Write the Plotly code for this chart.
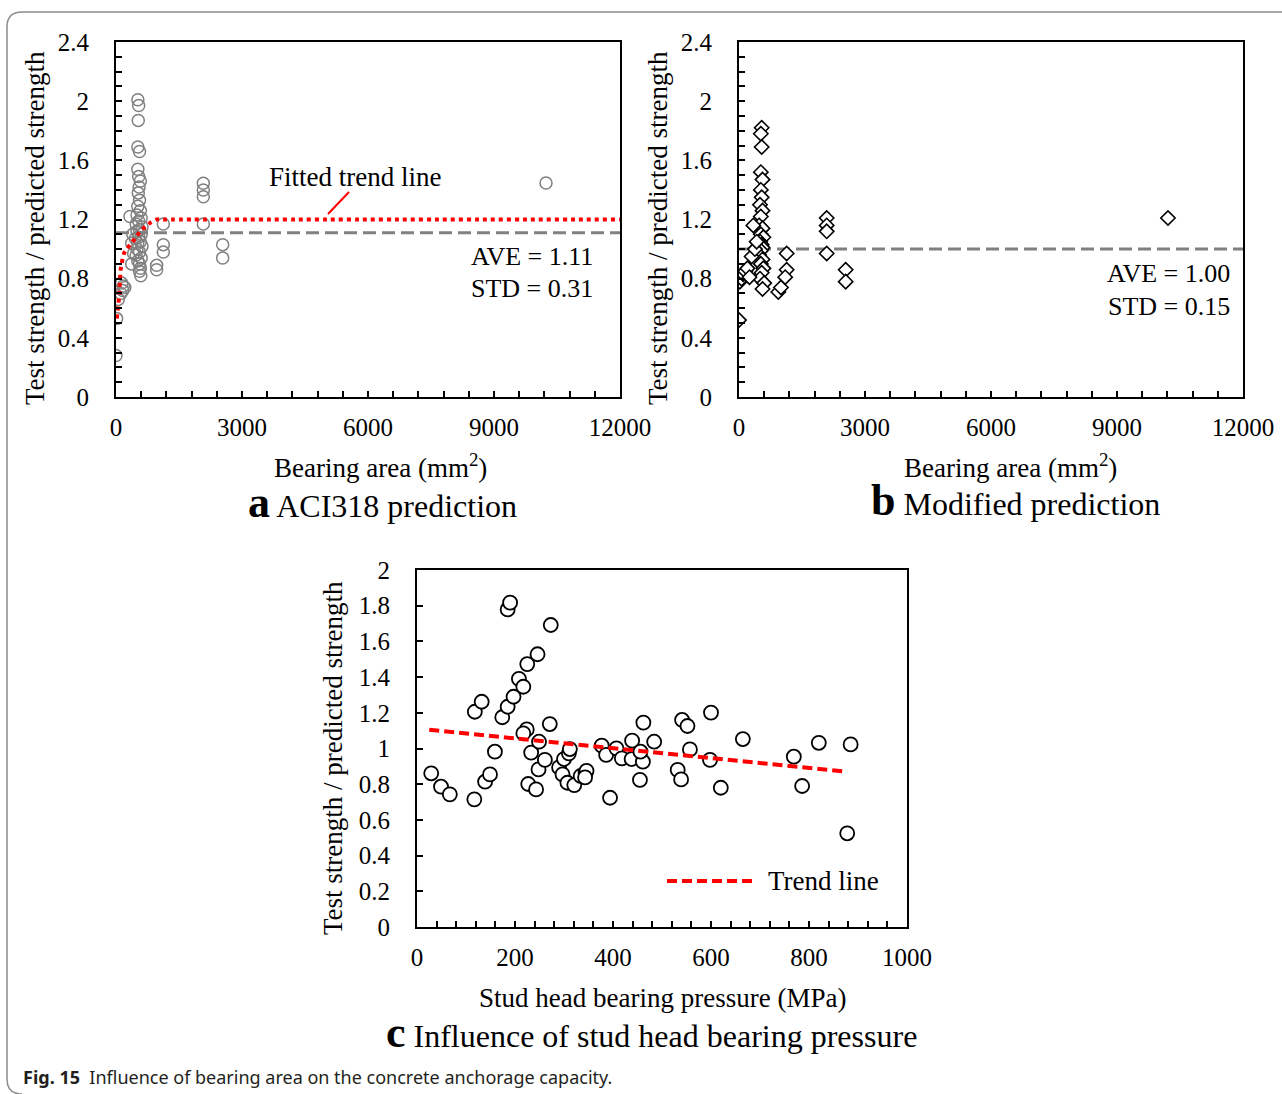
import plotly.graph_objects as go

W, H = 1282, 1094

# ---------------- data ----------------
# Panel a: ACI318 prediction (bearing area mm2, test / predicted)
area_a = [520, 540, 530, 520, 560, 520, 540, 580, 550, 530, 560, 520, 580, 500, 600,
          540, 480, 620, 560, 500, 600, 540, 460, 580, 520, 620, 500, 560, 480, 600,
          520, 560, 580, 560, 590,
          373, 333, 373, 420, 400,
          135, 175, 210, 160, 115, 55, 15, 0,
          1127, 1127, 1127, 968, 968, 2079, 2079, 2079, 2079, 2540, 2540, 10238]
ratio_a = [2.01, 1.97, 1.87, 1.69, 1.66, 1.54, 1.49, 1.46, 1.42, 1.38, 1.33, 1.29, 1.26, 1.23, 1.21,
           1.19, 1.17, 1.15, 1.13, 1.12, 1.10, 1.08, 1.07, 1.05, 1.04, 1.02, 1.00, 0.98, 0.96, 0.94,
           0.92, 0.90, 0.87, 0.85, 0.82,
           0.90, 1.22, 1.04, 0.97, 1.10,
           0.77, 0.75, 0.74, 0.72, 0.70, 0.66, 0.53, 0.28,
           1.17, 1.03, 0.98, 0.89, 0.86, 1.445, 1.40, 1.354, 1.17, 1.03, 0.94, 1.447]
trend_area_a = [20, 79, 111, 190, 333, 452, 555, 690, 826, 968, 1200, 12000]
trend_ratio_a = [0.53, 0.70, 0.86, 0.97, 1.03, 1.07, 1.11, 1.15, 1.18, 1.20, 1.20, 1.20]
ave_a, std_a = 1.11, 0.31

# Panel b: Modified prediction
area_b = [540, 520, 540, 520, 560, 520, 540, 500, 560, 520, 480, 560, 520, 580, 500,
          540, 560, 520, 480, 560, 520, 580, 540, 500, 600, 560,
          0, 20, 60, 100, 150, 200, 250, 341, 300, 380, 420,
          936, 1000, 1135, 1135, 1100, 2088, 2088, 2088, 2088, 2540, 2540, 10214]
ratio_b = [1.82, 1.78, 1.69, 1.52, 1.47, 1.40, 1.35, 1.30, 1.26, 1.22, 1.16, 1.14, 1.10, 1.08, 1.05,
           1.03, 1.01, 0.99, 0.96, 0.93, 0.90, 0.87, 0.84, 0.80, 0.77, 0.73,
           0.52, 0.78, 0.80, 0.83, 0.85, 0.87, 0.81, 1.16, 0.95, 1.00, 1.05,
           0.71, 0.74, 0.97, 0.86, 0.81, 1.21, 1.16, 1.12, 0.97, 0.86, 0.78, 1.21]
ave_b, std_b = 1.00, 0.15

# Panel c: stud head bearing pressure (MPa)
press_c = [29, 49, 67, 117, 118, 132, 139, 149, 159, 174, 185, 185, 190, 197, 208,
           217, 225, 246, 273, 271, 224, 217, 233, 227, 243, 248, 249, 261, 290, 297,
           300, 307, 310, 312, 321, 334, 344, 346, 343, 394, 377, 386, 407, 418, 439,
           438, 455, 462, 461, 456, 484, 541, 552, 557, 532, 539, 600, 598, 620, 665,
           769, 786, 820, 885, 878]
ratio_c = [0.861, 0.786, 0.743, 0.715, 1.206, 1.262, 0.814, 0.855, 0.982, 1.175, 1.234, 1.779, 1.817, 1.290, 1.390,
           1.346, 1.473, 1.528, 1.692, 1.137, 1.107, 1.085, 0.977, 0.801, 0.771, 0.883, 1.038, 0.936, 0.894, 0.855,
           0.941, 0.808, 0.973, 0.997, 0.795, 0.846, 0.864, 0.875, 0.838, 0.724, 1.016, 0.964, 1.001, 0.945, 1.044,
           0.941, 0.824, 1.145, 0.926, 0.982, 1.038, 1.160, 1.126, 0.995, 0.880, 0.827, 1.201, 0.936, 0.780, 1.053,
           0.954, 0.790, 1.032, 1.023, 0.525]
trend_p = [25, 875]
trend_v = [1.105, 0.870]

# ---------------- helpers ----------------
def px(x):
    return x / W

def py(y):
    return 1 - y / H

SERIF = "Liberation Serif"
TICK = dict(family=SERIF, size=25, color="black")

fig = go.Figure()

# panel a
fig.add_trace(go.Scatter(x=area_a, y=ratio_a, mode="markers", xaxis="x", yaxis="y",
                         marker=dict(symbol="circle", size=12, color="rgba(0,0,0,0)",
                                     line=dict(color="#808080", width=1.5)), showlegend=False))
fig.add_trace(go.Scatter(x=[0, 12000], y=[ave_a, ave_a], mode="lines", xaxis="x", yaxis="y",
                         line=dict(color="#808080", width=3, dash="13px,6px"), showlegend=False))
fig.add_trace(go.Scatter(x=trend_area_a, y=trend_ratio_a, mode="lines", xaxis="x", yaxis="y",
                         line=dict(color="#ff0000", width=4, dash="dot", shape="spline", smoothing=0.6),
                         showlegend=False))

# panel b
fig.add_trace(go.Scatter(x=[0, 12000], y=[ave_b, ave_b], mode="lines", xaxis="x2", yaxis="y2",
                         line=dict(color="#808080", width=3, dash="13px,6px"), showlegend=False))
fig.add_trace(go.Scatter(x=area_b, y=ratio_b, mode="markers", xaxis="x2", yaxis="y2",
                         marker=dict(symbol="diamond", size=11, color="white",
                                     line=dict(color="black", width=1.6)), showlegend=False))

# panel c
fig.add_trace(go.Scatter(x=press_c, y=ratio_c, mode="markers", xaxis="x3", yaxis="y3",
                         marker=dict(symbol="circle", size=14, color="white",
                                     line=dict(color="black", width=1.8)), showlegend=False))
fig.add_trace(go.Scatter(x=trend_p, y=trend_v, mode="lines", xaxis="x3", yaxis="y3",
                         line=dict(color="#ff0000", width=4, dash="10px,5px"), showlegend=False))


def base_axis(domain, rng, dtick, minor, anchor, standoff):
    return dict(domain=domain, range=rng, dtick=dtick, tick0=0, ticks="inside", ticklen=6,
                tickwidth=1.5, tickcolor="black", minor=dict(ticks="inside", dtick=minor, ticklen=6,
                                                             tickwidth=1.5, tickcolor="black"),
                showline=True, linewidth=2, linecolor="black", mirror=True, showgrid=False,
                zeroline=False, exponentformat="none", tickfont=TICK, ticklabelstandoff=standoff,
                anchor=anchor, fixedrange=True)


def xax(domain, rng, dtick, minor, anchor):
    d = base_axis(domain, rng, dtick, minor, anchor, 7)
    d["tickformat"] = "d"
    return d


def yax(domain, rng, dtick, minor, anchor):
    return base_axis(domain, rng, dtick, minor, anchor, 20)


ya_dom = [py(397), py(42)]
fig.update_layout(
    xaxis=xax([px(116), px(620)], [0, 12000], 3000, 600, "y"),
    yaxis=yax(ya_dom, [0, 2.4], 0.4, 0.1, "x"),
    xaxis2=xax([px(739), px(1243)], [0, 12000], 3000, 600, "y2"),
    yaxis2=yax(ya_dom, [0, 2.4], 0.4, 0.1, "x2"),
    xaxis3=xax([px(417), px(907)], [0, 1000], 200, 40, "y3"),
    yaxis3=yax([py(927), py(570)], [0, 2], 0.2, 0.2, "x3"),
)
fig.layout.yaxis3.minor = dict(ticks="")

ann = []

def text(x, y, s, size=27, xanchor="center", angle=0, family=SERIF, color="black"):
    ann.append(dict(x=px(x), y=py(y), xref="paper", yref="paper", text=s, showarrow=False,
                    xanchor=xanchor, yanchor="middle", textangle=angle,
                    font=dict(family=family, size=size, color=color)))

ytitle = "Test strength / predicted strength"
text(35, 228, ytitle, angle=-90)
text(658, 228, ytitle, angle=-90)
text(333, 758, ytitle, angle=-90)
text(380, 466, "Bearing area (mm<sup>2</sup>)")
text(1010, 466, "Bearing area (mm<sup>2</sup>)")
text(663, 998, "Stud head bearing pressure (MPa)")

text(382, 502, '<span style="font-size:44px"><b>a</b></span> ACI318 prediction', size=32)
text(1015, 500, '<span style="font-size:44px"><b>b</b></span> Modified prediction', size=32)
text(651, 1032, '<span style="font-size:44px"><b>c</b></span> Influence of stud head bearing pressure', size=32)

text(355, 177, "Fitted trend line", size=27)
text(595, 256, f"AVE = {ave_a:.2f}", size=26, xanchor="right")
text(595, 288, f"STD = {std_a:.2f}", size=26, xanchor="right")
text(1232, 273, f"AVE = {ave_b:.2f}", size=26, xanchor="right")
text(1232, 306, f"STD = {std_b:.2f}", size=26, xanchor="right")
text(766, 881, "Trend line", size=27, xanchor="left")

text(21, 1077, "<b>Fig. 15</b>  Influence of bearing area on the concrete anchorage capacity.",
     size=18, xanchor="left", family="Noto Sans", color="#231f20")

shapes = [
    # leader for fitted trend line
    dict(type="line", xref="paper", yref="paper", x0=px(328), y0=py(214), x1=px(349), y1=py(192),
         line=dict(color="#ff0000", width=2)),
    # legend sample for trend line
    dict(type="line", xref="paper", yref="paper", x0=px(667), y0=py(881), x1=px(757), y1=py(881),
         line=dict(color="#ff0000", width=4, dash="10px,5px")),
    # outer rounded frame
    dict(type="path", xref="paper", yref="paper",
         path=(f"M {px(1290)},{py(12)} L {px(22)},{py(12)} Q {px(7)},{py(12)} {px(7)},{py(27)} "
               f"L {px(7)},{py(1079)} Q {px(7)},{py(1094)} {px(22)},{py(1094)}"),
         line=dict(color="#8c8c8c", width=1.5)),
]

fig.update_layout(width=W, height=H, margin=dict(l=0, r=0, t=0, b=0, autoexpand=False),
                  paper_bgcolor="white", plot_bgcolor="white",
                  font=dict(family=SERIF, color="black"),
                  annotations=ann, shapes=shapes, showlegend=False)

fig.write_html("out.html", config=dict(displayModeBar=False))
